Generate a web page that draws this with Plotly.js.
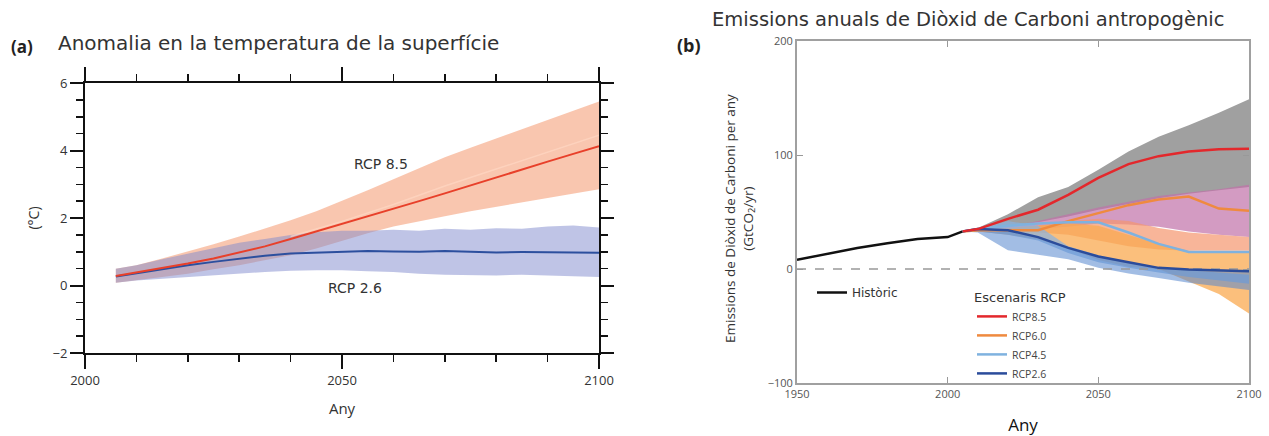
<!DOCTYPE html>
<html>
<head>
<meta charset="utf-8">
<script src="https://cdn.plot.ly/plotly-3.0.1.min.js"></script>
<style>html,body{margin:0;padding:0;background:#fff}#chart{width:1269px;height:436px}</style>
</head>
<body>
<div id="chart"></div>
<script>
// ---------- Panel (a): surface temperature anomaly ----------
const tYears = [2006,2010,2015,2020,2025,2030,2035,2040,2045,2050,2055,2060,2065,2070,2075,2080,2085,2090,2095,2100];
const rcp85Mean = [0.28,0.38,0.52,0.65,0.80,0.97,1.16,1.38,1.60,1.83,2.05,2.27,2.50,2.73,2.97,3.20,3.44,3.67,3.90,4.13];
const rcp85Up   = [0.50,0.60,0.80,1.00,1.22,1.45,1.68,1.93,2.20,2.50,2.82,3.15,3.48,3.80,4.08,4.35,4.62,4.90,5.18,5.45];
const rcp85Lo   = [0.08,0.15,0.25,0.35,0.48,0.60,0.75,0.90,1.10,1.32,1.55,1.75,1.90,2.05,2.20,2.35,2.48,2.60,2.72,2.85];
const rcp26Mean = [0.27,0.37,0.48,0.60,0.70,0.80,0.88,0.95,0.98,1.00,1.02,1.01,1.00,1.02,0.99,0.98,0.99,0.98,0.99,0.97];
const rcp26Up   = [0.50,0.60,0.78,0.95,1.10,1.27,1.38,1.50,1.58,1.62,1.62,1.65,1.62,1.68,1.65,1.70,1.68,1.75,1.78,1.72];
const rcp26Lo   = [0.08,0.15,0.20,0.25,0.30,0.35,0.40,0.44,0.45,0.45,0.42,0.40,0.35,0.32,0.30,0.30,0.32,0.30,0.28,0.25];
const faintYears = [2040,2050,2060,2070,2080,2090,2100];
const rcp85Faint = [1.45,1.90,2.40,2.95,3.45,3.95,4.45];

// ---------- Panel (b): annual anthropogenic CO2 emissions ----------
const histYears = [1950,1960,1970,1980,1990,2000,2005];
const histVals  = [8,13,18.5,22.5,26.3,28,33];
const rYears = [2005,2010,2020,2030,2040,2050,2060,2070,2080,2090,2100];
const e85 = [33,35,44,52,65,80,92,99,103,105,105.5];
const e60 = [33,34,34,34,42,49,56,61,63.5,53,51];
const e45 = [33,35,38,40,41,41,32,22,15,15,15];
const e26 = [33,35,34,28,18.5,11,6,1,-0.5,-1,-2];
const grayUp = [33,36,48,63,72,87,103,116,126,137,149];
const grayLo = [33,34,37,41,46,52,57,62,66,69,72];
const pinkUp = [33,34,37,42,48,54,59,64,67,70,74];
const pinkLo = [33,33,34,35,37,40,39,37,33,30,28];
const salUp  = [33,34,36,38,42,44,42,36,32,30,28];
const salLo  = [33,33,33,32,30,25,20,17,16,16,16];
const orUp   = [33,34,36,38,40,38,30,22,16,15,14];
const orLo   = [33,33,30,26,18,8,2,0,-11,-22,-39];
const lbUp   = [33,35,42,38,20,12,6,1,-1,-3,-5];
const lbLo   = [33,33,30,25,14,6,1,-3,-7,-10,-13];
const bUp    = [33,34,34,28,18,11,6,1,-0.5,-1,-2];
const bLo    = [33,32,16.5,12.5,8.5,1,-4,-8,-12,-15.5,-18.5];
const zeroYears = [1950,2100];
const zeroVals  = [0,0];

function band(x, up, lo, color, xa, ya) {
  return {x: x.concat(x.slice().reverse()), y: up.concat(lo.slice().reverse()),
    type:'scatter', mode:'lines', fill:'toself', fillcolor:color,
    line:{width:0, color:color}, hoverinfo:'skip', showlegend:false, xaxis:xa, yaxis:ya};
}

const traces = [
  band(tYears, rcp85Up, rcp85Lo, 'rgba(246,168,132,0.65)', 'x', 'y'),
  band(tYears, rcp26Up, rcp26Lo, 'rgba(128,138,205,0.5)', 'x', 'y'),
  {x: faintYears, y: rcp85Faint, type:'scatter', mode:'lines', line:{color:'rgba(255,215,195,0.7)', width:1.5}, showlegend:false, xaxis:'x', yaxis:'y'},
  {x: tYears, y: rcp26Mean, type:'scatter', mode:'lines', line:{color:'#2c4f9e', width:2}, showlegend:false, xaxis:'x', yaxis:'y'},
  {x: tYears, y: rcp85Mean, type:'scatter', mode:'lines', line:{color:'#e8402a', width:2}, showlegend:false, xaxis:'x', yaxis:'y'},

  band(rYears, grayUp, grayLo, 'rgba(160,160,160,1)', 'x2', 'y2'),
  band(rYears, pinkUp, pinkLo, 'rgba(192,112,168,0.7)', 'x2', 'y2'),
  band(rYears, salUp, salLo, 'rgba(245,150,110,0.7)', 'x2', 'y2'),
  band(rYears, orUp, orLo, 'rgba(250,170,80,0.75)', 'x2', 'y2'),
  band(rYears, lbUp, lbLo, 'rgba(135,178,225,0.7)', 'x2', 'y2'),
  band(rYears, bUp, bLo, 'rgba(85,135,205,0.55)', 'x2', 'y2'),
  {x: zeroYears, y: zeroVals, type:'scatter', mode:'lines', line:{color:'#999', width:1.5, dash:'dash'}, showlegend:false, hoverinfo:'skip', xaxis:'x2', yaxis:'y2'},
  {x: histYears, y: histVals, name:'Històric', type:'scatter', mode:'lines', line:{color:'#111', width:2.5}, legend:'legend', xaxis:'x2', yaxis:'y2'},
  {x: rYears, y: e60, name:'RCP6.0', type:'scatter', mode:'lines', line:{color:'#ef8a3f', width:2.5}, legend:'legend2', legendrank:2, xaxis:'x2', yaxis:'y2'},
  {x: rYears, y: e45, name:'RCP4.5', type:'scatter', mode:'lines', line:{color:'#7fb2df', width:2.5}, legend:'legend2', legendrank:3, xaxis:'x2', yaxis:'y2'},
  {x: rYears, y: e26, name:'RCP2.6', type:'scatter', mode:'lines', line:{color:'#2b4c9b', width:2.5}, legend:'legend2', legendrank:4, xaxis:'x2', yaxis:'y2'},
  {x: rYears, y: e85, name:'RCP8.5', type:'scatter', mode:'lines', line:{color:'#e3282c', width:2.5}, legend:'legend2', legendrank:1, xaxis:'x2', yaxis:'y2'}
];

const W = 1269, H = 436;
const px = v => v / W, py = v => 1 - v / H;
const tickFontA = {family:'Open Sans', size:13, color:'#333'};
const tickFontB = {family:'Open Sans', size:11, color:'#555'};

const layout = {
  width: W, height: H,
  margin: {l:0, r:0, t:0, b:0},
  paper_bgcolor:'#fff', plot_bgcolor:'rgba(0,0,0,0)',
  showlegend: true,
  xaxis: {domain:[px(85), px(599)], range:[2000,2100], tick0:2000, dtick:50,
    ticks:'outside', ticklen:14, tickwidth:2, tickcolor:'#111',
    showline:true, linewidth:2, linecolor:'#111', mirror:'ticks',
    minor:{dtick:10, ticks:'outside', ticklen:7, tickwidth:1.5, tickcolor:'#111'},
    showgrid:false, zeroline:false, tickfont:tickFontA,
    title:{text:'Any', font:{family:'Open Sans', size:15, color:'#333'}, standoff:16}},
  yaxis: {domain:[py(353), py(83)], range:[-2,6], tick0:0, dtick:2,
    ticks:'outside', ticklen:13, tickwidth:2, tickcolor:'#111',
    showline:true, linewidth:2, linecolor:'#111', mirror:'ticks',
    minor:{dtick:0.5, ticks:'outside', ticklen:7, tickwidth:1.5, tickcolor:'#111'},
    showgrid:false, zeroline:false, tickfont:tickFontA,
    title:{text:'(°C)', font:{family:'Open Sans', size:14, color:'#333'}, standoff:10}},
  xaxis2: {domain:[px(797), px(1249)], range:[1950,2100], tickvals:[1950,2000,2050,2100],
    ticks:'inside', ticklen:6, tickwidth:1, tickcolor:'#999',
    showline:true, linewidth:2, linecolor:'#a0a0a0', mirror:'ticks',
    showgrid:false, zeroline:false, tickfont:tickFontB, anchor:'y2',
    title:{text:'Any', font:{family:'Open Sans', size:17, color:'#111'}, standoff:20}},
  yaxis2: {domain:[py(383), py(41)], range:[-100,200], tickvals:[-100,0,100,200],
    ticks:'inside', ticklen:6, tickwidth:1, tickcolor:'#999',
    showline:true, linewidth:2, linecolor:'#a0a0a0', mirror:'ticks',
    showgrid:false, zeroline:false, tickfont:tickFontB, anchor:'x2'},
  legend: {x: px(812), y: py(278), xanchor:'left', yanchor:'top', bgcolor:'rgba(0,0,0,0)',
    font:{family:'DejaVu Sans', size:12, color:'#333'}, itemwidth:30, tracegroupgap:0},
  legend2: {x: px(972), y: py(285), xanchor:'left', yanchor:'top', bgcolor:'rgba(0,0,0,0)',
    font:{family:'Open Sans', size:10.5, color:'#444'}, itemwidth:30, traceorder:'normal',
    title:{text:'Escenaris RCP', font:{family:'DejaVu Sans', size:13, color:'#333'}}},
  annotations: [
    {xref:'paper', yref:'paper', x:px(9), y:py(46), xanchor:'left', yanchor:'middle', showarrow:false,
     text:'<b>(a)</b>', font:{family:'Open Sans', size:17, color:'#222'}},
    {xref:'paper', yref:'paper', x:px(56), y:py(43), xanchor:'left', yanchor:'middle', showarrow:false,
     text:'Anomalia en la temperatura de la superfície', font:{family:'DejaVu Sans', size:20, color:'#333'}},
    {xref:'paper', yref:'paper', x:px(675), y:py(45), xanchor:'left', yanchor:'middle', showarrow:false,
     text:'<b>(b)</b>', font:{family:'Open Sans', size:18, color:'#222'}},
    {xref:'paper', yref:'paper', x:px(968), y:py(20), xanchor:'center', yanchor:'middle', showarrow:false,
     text:'Emissions anuals de Diòxid de Carboni antropogènic', font:{family:'DejaVu Sans', size:19.5, color:'#333'}},
    {xref:'x', yref:'y', x:2057.5, y:3.61, showarrow:false, text:'RCP 8.5',
     font:{family:'DejaVu Sans', size:14, color:'#333'}},
    {xref:'x', yref:'y', x:2052.5, y:-0.06, showarrow:false, text:'RCP 2.6',
     font:{family:'DejaVu Sans', size:14, color:'#333'}},
    {xref:'paper', yref:'paper', x:px(739), y:py(218), xanchor:'center', yanchor:'middle', showarrow:false,
     textangle:-90, text:'Emissions de Diòxid de Carboni per any<br>(GtCO<sub>2</sub>/yr)',
     font:{family:'Open Sans', size:13.5, color:'#333'}}
  ]
};

Plotly.newPlot('chart', traces, layout, {displayModeBar:false, staticPlot:true});
</script>
</body>
</html>
